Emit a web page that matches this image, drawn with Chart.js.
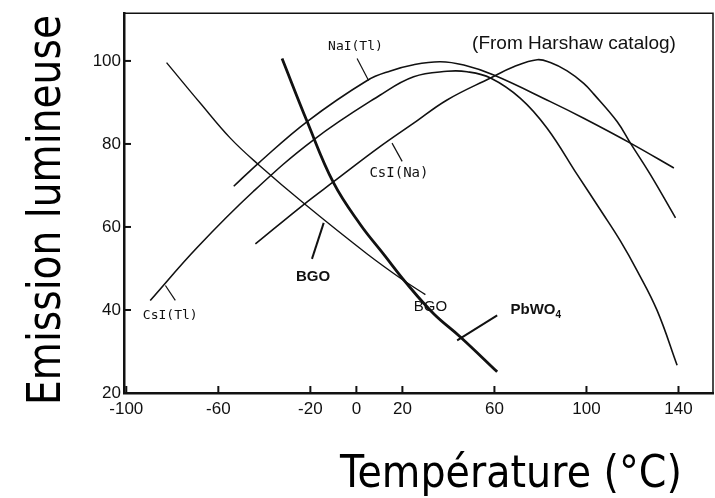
<!DOCTYPE html>
<html>
<head>
<meta charset="utf-8">
<script src="https://cdn.jsdelivr.net/npm/chart.js@4.4.0/dist/chart.umd.min.js"></script>
<style>
  body { margin: 0; background: #fff; }
  canvas { display: block; }
</style>
</head>
<body>
<canvas id="lightChart" width="715" height="498"></canvas>
<script>
// tick labels
const tempTicks = [-100, -60, -20, 0, 20, 60, 100, 140];
const lightTicks = [20, 40, 60, 80, 100];

// NaI(Tl)
const naiTemp = [-53.3, -42.5, -21.4, 4.7, 14.8, 24.9, 36.5, 46.7, 59.7, 84.3, 98.8, 119.1, 138];
const naiLight = [69.8, 75.4, 85.4, 95.3, 97.6, 99.1, 99.8, 99.0, 96.6, 90.2, 86.2, 80.2, 74.2];

// CsI(Tl)
const cstlTemp = [-89.6, -69.3, -44.7, -18.6, 10.4, 24.9, 39.4, 48.1, 58.3, 71.3, 82.9, 96.0, 106.8, 114.8, 122.0, 130.7, 139.4];
const cstlLight = [42.3, 55.0, 68.6, 81.0, 91.8, 96.2, 97.5, 97.4, 95.9, 91.0, 83.8, 72.6, 63.5, 56.6, 49.5, 39.9, 26.7];

// CsI(Na)
const csnaTemp = [-43.9, -22.9, -9.9, 10.4, 24.9, 39.4, 58.3, 68.4, 78.6, 84.3, 91.6, 98.8, 103.2, 113.3, 119.1, 127.8, 138.7];
const csnaLight = [55.9, 65.4, 70.9, 79.4, 85.0, 90.6, 95.9, 98.6, 100.3, 99.6, 97.6, 94.6, 92.0, 85.4, 80.2, 72.6, 62.2];

// BGO (Harshaw)
const bgoTemp = [-82.5, -67.8, -54.8, -42.5, -22.2, 4.7, 20.6, 30.0];
const bgoLight = [99.6, 89.8, 81.4, 75.0, 65.4, 53.5, 47.1, 43.7];

// PbWO4
const pbwoTemp = [-32.3, -21.4, -9.9, 1.7, 11.9, 22.0, 33.6, 45.2, 61.2];
const pbwoLight = [100.6, 85.4, 70.6, 60.6, 53.4, 46.3, 39.1, 33.5, 25.1];

const toPoints = (xs, ys) => xs.map((x, i) => ({ x: x, y: ys[i] }));

const curve = (label, xs, ys, width) => ({
  label: label,
  data: toPoints(xs, ys),
  showLine: true,
  borderColor: "#111",
  borderWidth: width,
  pointRadius: 0,
  tension: 0.4,
  fill: false,
});

// text put on the plot, in data units
const notes = [
  { text: "NaI(Tl)", x: -0.4, y: 103.4, font: '13px "DejaVu Sans Mono"', align: "center" },
  { text: "(From Harshaw catalog)", x: 50.3, y: 104.1, font: '19px "Liberation Sans"', align: "left" },
  { text: "CsI(Na)", x: 18.5, y: 73.0, font: '14px "DejaVu Sans Mono"', align: "center" },
  { text: "CsI(Tl)", x: -80.9, y: 38.7, font: '13px "DejaVu Sans Mono"', align: "center" },
  { text: "BGO", x: 32.2, y: 40.8, font: '15px "Liberation Sans"', align: "center" },
  { text: "BGO", x: -18.8, y: 47.9, font: 'bold 15px "Liberation Sans"', align: "center" },
  { text: "PbWO", x: 67, y: 40.0, font: 'bold 15px "Liberation Sans"', align: "left", sub: "4" },
];

const leaders = [
  { from: [0.3, 100.6], to: [5.3, 95.3], w: 1.2 },
  { from: [15.5, 80.2], to: [19.9, 75.8], w: 1.2 },
  { from: [-83, 45.9], to: [-78.7, 42.3], w: 1.2 },
  { from: [-19.3, 52.3], to: [-14.2, 61.0], w: 2 },
  { from: [43.8, 32.7], to: [61.2, 38.7], w: 2 },
];

const annotate = {
  id: "annotate",
  afterDatasetsDraw(chart) {
    const { ctx, scales: { x, y } } = chart;
    ctx.save();
    ctx.strokeStyle = "#111";
    ctx.fillStyle = "#111";
    leaders.forEach((l) => {
      ctx.lineWidth = l.w;
      ctx.beginPath();
      ctx.moveTo(x.getPixelForValue(l.from[0]), y.getPixelForValue(l.from[1]));
      ctx.lineTo(x.getPixelForValue(l.to[0]), y.getPixelForValue(l.to[1]));
      ctx.stroke();
    });
    notes.forEach((n) => {
      const px = x.getPixelForValue(n.x);
      const py = y.getPixelForValue(n.y);
      ctx.font = n.font;
      ctx.textAlign = n.align;
      ctx.textBaseline = "middle";
      ctx.fillText(n.text, px, py);
      if (n.sub) {
        const w = ctx.measureText(n.text).width;
        ctx.font = 'bold 10px "Liberation Sans"';
        ctx.textAlign = "left";
        ctx.fillText(n.sub, px + w, py + 5);
      }
    });
    ctx.restore();
  },
  afterDraw(chart) {
    const { ctx, chartArea: a, scales: { x, y } } = chart;
    ctx.save();
    ctx.strokeStyle = "#111";
    // thin top and right edges of the frame
    ctx.lineWidth = 1.5;
    ctx.beginPath();
    ctx.moveTo(a.left, a.top);
    ctx.lineTo(a.right, a.top);
    ctx.lineTo(a.right, a.bottom);
    ctx.stroke();
    // inward tick marks
    ctx.lineWidth = 2;
    tempTicks.forEach((v) => {
      const px = x.getPixelForValue(v);
      ctx.beginPath();
      ctx.moveTo(px, a.bottom);
      ctx.lineTo(px, a.bottom - 7);
      ctx.stroke();
    });
    lightTicks.forEach((v) => {
      const py = y.getPixelForValue(v);
      ctx.beginPath();
      ctx.moveTo(a.left, py);
      ctx.lineTo(a.left + 7, py);
      ctx.stroke();
    });
    // axis titles
    ctx.fillStyle = "#000";
    ctx.textAlign = "center";
    ctx.textBaseline = "alphabetic";
    ctx.font = '44px "DejaVu Sans"';
    ctx.fillText("Température (°C)", 511, 487, 342);
    ctx.translate(60, 210);
    ctx.rotate(-Math.PI / 2);
    ctx.font = '46px "DejaVu Sans"';
    ctx.fillText("Emission lumineuse", 0, 0, 390);
    ctx.restore();
  },
};

const ctx = document.getElementById("lightChart");

new Chart(ctx, {
  type: "scatter",
  data: {
    datasets: [
      curve("NaI(Tl)", naiTemp, naiLight, 1.6),
      curve("CsI(Tl)", cstlTemp, cstlLight, 1.6),
      curve("CsI(Na)", csnaTemp, csnaLight, 1.6),
      curve("BGO", bgoTemp, bgoLight, 1.4),
      curve("PbWO4", pbwoTemp, pbwoLight, 2.8),
    ],
  },
  options: {
    responsive: false,
    animation: false,
    layout: { padding: { top: 11, right: 2, left: 0, bottom: 0 } },
    plugins: {
      legend: { display: false },
      tooltip: { enabled: false },
    },
    scales: {
      x: {
        type: "linear",
        min: -101,
        max: 155,
        afterBuildTicks: (scale) => {
          scale.ticks = tempTicks.map((v) => ({ value: v }));
        },
        afterFit: (scale) => {
          scale.height = 105;
        },
        grid: { display: false, drawTicks: false },
        border: { display: true, color: "#111", width: 2.5 },
        ticks: {
          color: "#111",
          padding: 6,
          maxRotation: 0,
          autoSkip: false,
          font: { family: "Liberation Sans", size: 17 },
        },
      },
      y: {
        type: "linear",
        min: 20,
        max: 111.5,
        afterBuildTicks: (scale) => {
          scale.ticks = lightTicks.map((v) => ({ value: v }));
        },
        afterFit: (scale) => {
          scale.width = 124;
        },
        grid: { display: false, drawTicks: false },
        border: { display: true, color: "#111", width: 2.5 },
        ticks: {
          color: "#111",
          padding: 3,
          font: { family: "Liberation Sans", size: 17 },
        },
      },
    },
  },
  plugins: [annotate],
});
</script>
</body>
</html>
